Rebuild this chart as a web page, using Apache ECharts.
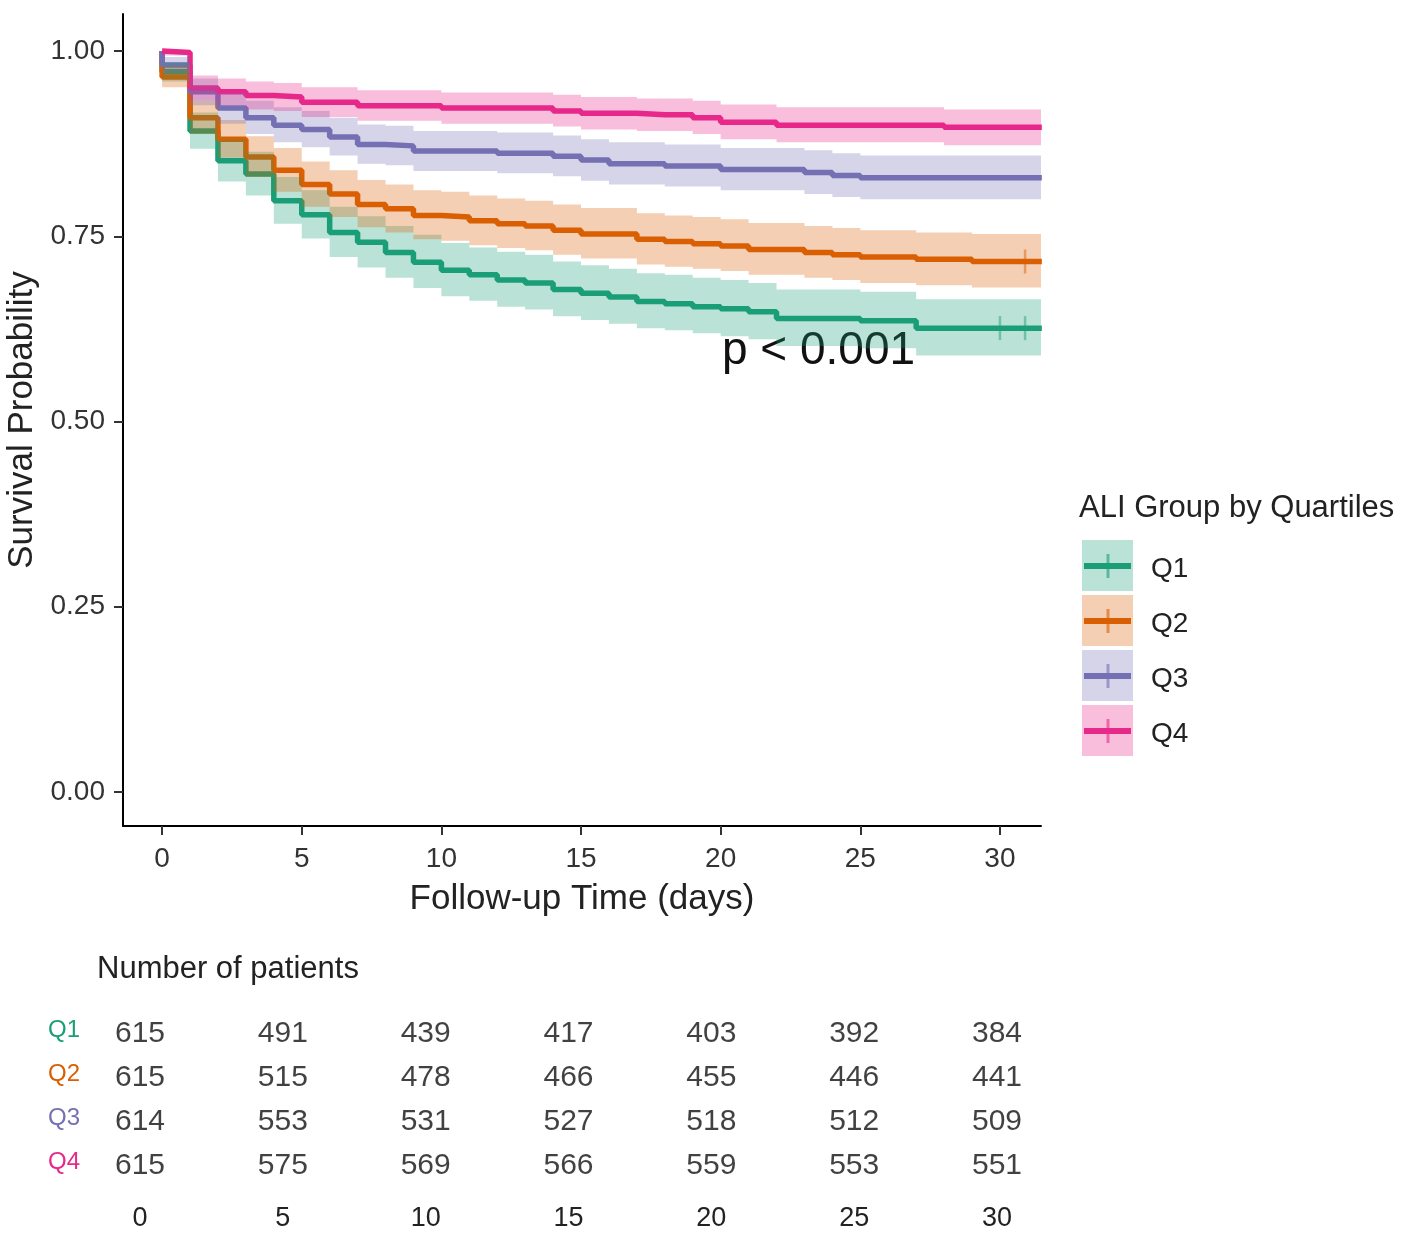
<!DOCTYPE html>
<html>
<head>
<meta charset="utf-8">
<script src="https://cdn.jsdelivr.net/npm/echarts@6/dist/echarts.min.js"></script>
<style>
html, body { margin: 0; padding: 0; background: #fff; }
#main { width: 1418px; height: 1249px; }
</style>
</head>
<body>
<div id="main"></div>
<script>
var groups = ['Q1', 'Q2', 'Q3', 'Q4'];
var colors = ['#1B9E77', '#D95F02', '#7570B3', '#E7298A'];

// step start times (days), each value holds until the next day
var days = [0,1,2,3,4,5,6,7,8,9,10,11,12,13,14,15,16,17,18,19,20,21,22,23,24,25,26,27,28,29,30];
var endTime = 31.5;

var q1Surv  = [.972,.892,.852,.834,.798,.779,.755,.742,.728,.715,.704,.698,.691,.687,.678,.673,.668,.662,.659,.655,.652,.648,.639,.639,.639,.636,.636,.626,.626,.626,.626];
var q1Upper = [.985,.917,.881,.864,.830,.812,.790,.777,.764,.752,.741,.735,.729,.725,.716,.711,.706,.700,.698,.694,.691,.687,.678,.678,.678,.675,.675,.665,.665,.665,.665];
var q1Lower = [.959,.868,.824,.805,.767,.747,.722,.708,.694,.680,.669,.663,.655,.651,.642,.637,.632,.626,.623,.619,.615,.611,.602,.602,.602,.599,.599,.589,.589,.589,.589];

var q2Surv  = [.965,.910,.881,.857,.839,.820,.807,.793,.787,.778,.776,.771,.767,.764,.758,.753,.753,.746,.743,.740,.737,.732,.732,.728,.725,.722,.722,.719,.719,.716,.716];
var q2Upper = [.980,.933,.907,.885,.869,.851,.839,.826,.820,.812,.810,.805,.801,.798,.793,.788,.788,.781,.778,.776,.773,.768,.768,.764,.761,.758,.758,.755,.755,.753,.753];
var q2Lower = [.951,.888,.856,.830,.810,.790,.776,.762,.755,.746,.744,.738,.734,.731,.725,.720,.720,.712,.709,.706,.703,.698,.698,.694,.691,.687,.687,.684,.684,.681,.681];

var q3Surv  = [.981,.945,.923,.910,.900,.894,.884,.874,.872,.865,.865,.865,.862,.862,.858,.853,.848,.848,.845,.845,.840,.840,.840,.836,.832,.829,.829,.829,.829,.829,.829];
var q3Upper = [.992,.963,.944,.933,.924,.919,.910,.901,.899,.892,.892,.892,.890,.890,.886,.881,.877,.877,.874,.874,.869,.869,.869,.866,.862,.859,.859,.859,.859,.859,.859];
var q3Lower = [.970,.927,.902,.888,.877,.870,.859,.848,.846,.838,.838,.838,.835,.835,.831,.825,.820,.820,.817,.817,.812,.812,.812,.807,.803,.800,.800,.800,.800,.800,.800];

var q4Surv  = [.998,.950,.945,.940,.938,.931,.931,.926,.926,.926,.923,.923,.923,.923,.919,.916,.916,.914,.914,.910,.904,.904,.900,.900,.900,.900,.900,.900,.897,.897,.897];
var q4Upper = [1.00,.967,.963,.959,.957,.951,.951,.947,.947,.947,.944,.944,.944,.944,.941,.938,.938,.936,.936,.933,.928,.928,.924,.924,.924,.924,.924,.924,.921,.921,.921];
var q4Lower = [.994,.933,.927,.921,.919,.911,.911,.906,.906,.906,.902,.902,.902,.902,.898,.894,.894,.892,.892,.888,.881,.881,.877,.877,.877,.877,.877,.877,.873,.873,.873];

// censoring marks
var q1Censor = [30.0, 30.9];
var q2Censor = [30.9];

// number at risk table
var riskTimes = [0, 5, 10, 15, 20, 25, 30];
var riskQ1 = [615, 491, 439, 417, 403, 392, 384];
var riskQ2 = [615, 515, 478, 466, 455, 446, 441];
var riskQ3 = [614, 553, 531, 527, 518, 512, 509];
var riskQ4 = [615, 575, 569, 566, 559, 553, 551];

var survTicks = [0, 0.25, 0.5, 0.75, 1];
var timeTicks = [0, 5, 10, 15, 20, 25, 30];

var FONT = '"Liberation Sans", Arial, sans-serif';
var survAll = [q1Surv, q2Surv, q3Surv, q4Surv];
var upperAll = [q1Upper, q2Upper, q3Upper, q4Upper];
var lowerAll = [q1Lower, q2Lower, q3Lower, q4Lower];
var riskAll = [riskQ1, riskQ2, riskQ3, riskQ4];
var censorAll = [q1Censor, q2Censor, [], []];

function rgba(hex, a) {
    var n = parseInt(hex.slice(1), 16);
    return 'rgba(' + (n >> 16) + ',' + ((n >> 8) & 255) + ',' + (n & 255) + ',' + a + ')';
}

function segEnd(i) {
    return i < days.length - 1 ? days[i + 1] : endTime;
}

function stepLine(g) {
    var s = survAll[g];
    var data = [[0, 1]];
    for (var i = 0; i < days.length; i++) data.push([days[i], s[i]]);
    data.push([endTime, s[s.length - 1]]);
    return {
        type: 'line', name: groups[g], step: 'end', data: data,
        showSymbol: false, symbol: 'none', z: 2, silent: true,
        lineStyle: {color: colors[g], width: 5.5}
    };
}

//置信区间带
function band(g) {
    var up = upperAll[g], lo = lowerAll[g];
    return {
        type: 'custom', name: groups[g] + ' CI', data: [[0, 1]], z: 3, silent: true, clip: true,
        renderItem: function (params, api) {
            var pts = [];
            for (var i = 0; i < days.length; i++) {
                pts.push(api.coord([days[i], up[i]]), api.coord([segEnd(i), up[i]]));
            }
            for (var j = days.length - 1; j >= 0; j--) {
                pts.push(api.coord([segEnd(j), lo[j]]), api.coord([days[j], lo[j]]));
            }
            return {type: 'polygon', shape: {points: pts}, style: {fill: rgba(colors[g], 0.3)}};
        }
    };
}

function censor(g) {
    var s = survAll[g];
    return {
        type: 'scatter', data: censorAll[g].map(function (t) { return [t, s[s.length - 1]]; }),
        symbol: 'rect', symbolSize: [2.5, 24], z: 4, silent: true,
        itemStyle: {color: rgba(colors[g], 0.6)}
    };
}

function riskRow(g) {
    return {
        type: 'scatter', xAxisIndex: 1, yAxisIndex: 1, symbolSize: 0, silent: true,
        data: riskTimes.map(function (t, k) { return [t, groups[g], riskAll[g][k]]; }),
        label: {
            show: true, position: 'inside', color: '#111', fontSize: 30, fontFamily: FONT,
            formatter: function (p) { return p.value[2]; }
        }
    };
}

var series = [];
for (var g = 0; g < 4; g++) series.push(stepLine(g));
for (g = 0; g < 4; g++) series.push(band(g));
for (g = 0; g < 4; g++) { if (censorAll[g].length) series.push(censor(g)); }
for (g = 0; g < 4; g++) series.push(riskRow(g));

var richQ = {};
groups.forEach(function (q, i) { richQ[q] = {color: colors[i], fontSize: 24, fontFamily: FONT}; });

// legend drawn by hand: shaded key with line and censor cross
var legendEls = [{
    type: 'text', x: 1079, y: 508,
    style: {text: 'ALI Group by Quartiles', fontSize: 31, fontFamily: FONT, fill: '#222', verticalAlign: 'middle'}
}];
groups.forEach(function (q, i) {
    var top = 540 + i * 55, cy = top + 26;
    legendEls.push(
        {type: 'rect', shape: {x: 1082, y: top, width: 51, height: 51}, style: {fill: rgba(colors[i], 0.3)}},
        {type: 'line', shape: {x1: 1084, y1: cy, x2: 1131, y2: cy}, style: {stroke: colors[i], lineWidth: 6}},
        {type: 'line', shape: {x1: 1108, y1: cy - 12, x2: 1108, y2: cy + 12}, style: {stroke: rgba(colors[i], 0.6), lineWidth: 3}},
        {type: 'text', x: 1151, y: cy + 3, style: {text: q, fontSize: 28, fontFamily: FONT, fill: '#222', verticalAlign: 'middle'}}
    );
});

var chart = echarts.init(document.getElementById('main'), null, {renderer: 'canvas'});
chart.setOption({
    animation: false,
    backgroundColor: '#fff',
    grid: [
        {left: 123, top: 14, width: 918, height: 812, outerBoundsMode: 'none', containLabel: false},
        {left: 100, top: 1012, width: 937, height: 176, outerBoundsMode: 'none', containLabel: false}
    ],
    xAxis: [{
        type: 'value', gridIndex: 0, min: -1.4, max: 31.47,
        name: 'Follow-up Time (days)', nameLocation: 'middle', nameGap: 56,
        nameTextStyle: {fontSize: 35, color: '#222', fontFamily: FONT},
        axisLine: {show: true, onZero: false, lineStyle: {color: '#000', width: 2}},
        axisTick: {show: true, length: 9, customValues: timeTicks, lineStyle: {color: '#333', width: 2}},
        axisLabel: {customValues: timeTicks, fontSize: 28, color: '#333', margin: 19, fontFamily: FONT},
        splitLine: {show: false}
    }, {
        type: 'value', gridIndex: 1, min: -1.4, max: 31.4,
        axisLine: {show: false}, axisTick: {show: false}, splitLine: {show: false},
        axisLabel: {customValues: riskTimes, fontSize: 27, color: '#222', margin: 17, fontFamily: FONT}
    }],
    yAxis: [{
        type: 'value', gridIndex: 0, min: -0.046, max: 1.05,
        name: 'Survival Probability', nameLocation: 'middle', nameGap: 78,
        nameTextStyle: {fontSize: 35, color: '#222', fontFamily: FONT},
        axisLine: {show: true, onZero: false, lineStyle: {color: '#000', width: 2}},
        axisTick: {show: true, length: 9, customValues: survTicks, lineStyle: {color: '#333', width: 2}},
        axisLabel: {
            customValues: survTicks, fontSize: 28, color: '#333', margin: 18, fontFamily: FONT,
            formatter: function (v) { return v.toFixed(2); }
        },
        splitLine: {show: false}
    }, {
        type: 'category', gridIndex: 1, data: groups, inverse: true,
        axisLine: {show: false}, axisTick: {show: false}, splitLine: {show: false},
        axisLabel: {
            margin: 20, verticalAlign: 'middle', padding: [0, 0, 8, 0],
            formatter: function (v) { return '{' + v + '|' + v + '}'; }, rich: richQ
        }
    }],
    graphic: legendEls.concat([
        {type: 'text', x: 722, y: 351, style: {text: 'p < 0.001', fontSize: 46, fontFamily: FONT, fill: '#111', verticalAlign: 'middle'}},
        {type: 'text', x: 97, y: 969, style: {text: 'Number of patients', fontSize: 31, fontFamily: FONT, fill: '#222', verticalAlign: 'middle'}}
    ]),
    series: series
});
</script>
</body>
</html>
